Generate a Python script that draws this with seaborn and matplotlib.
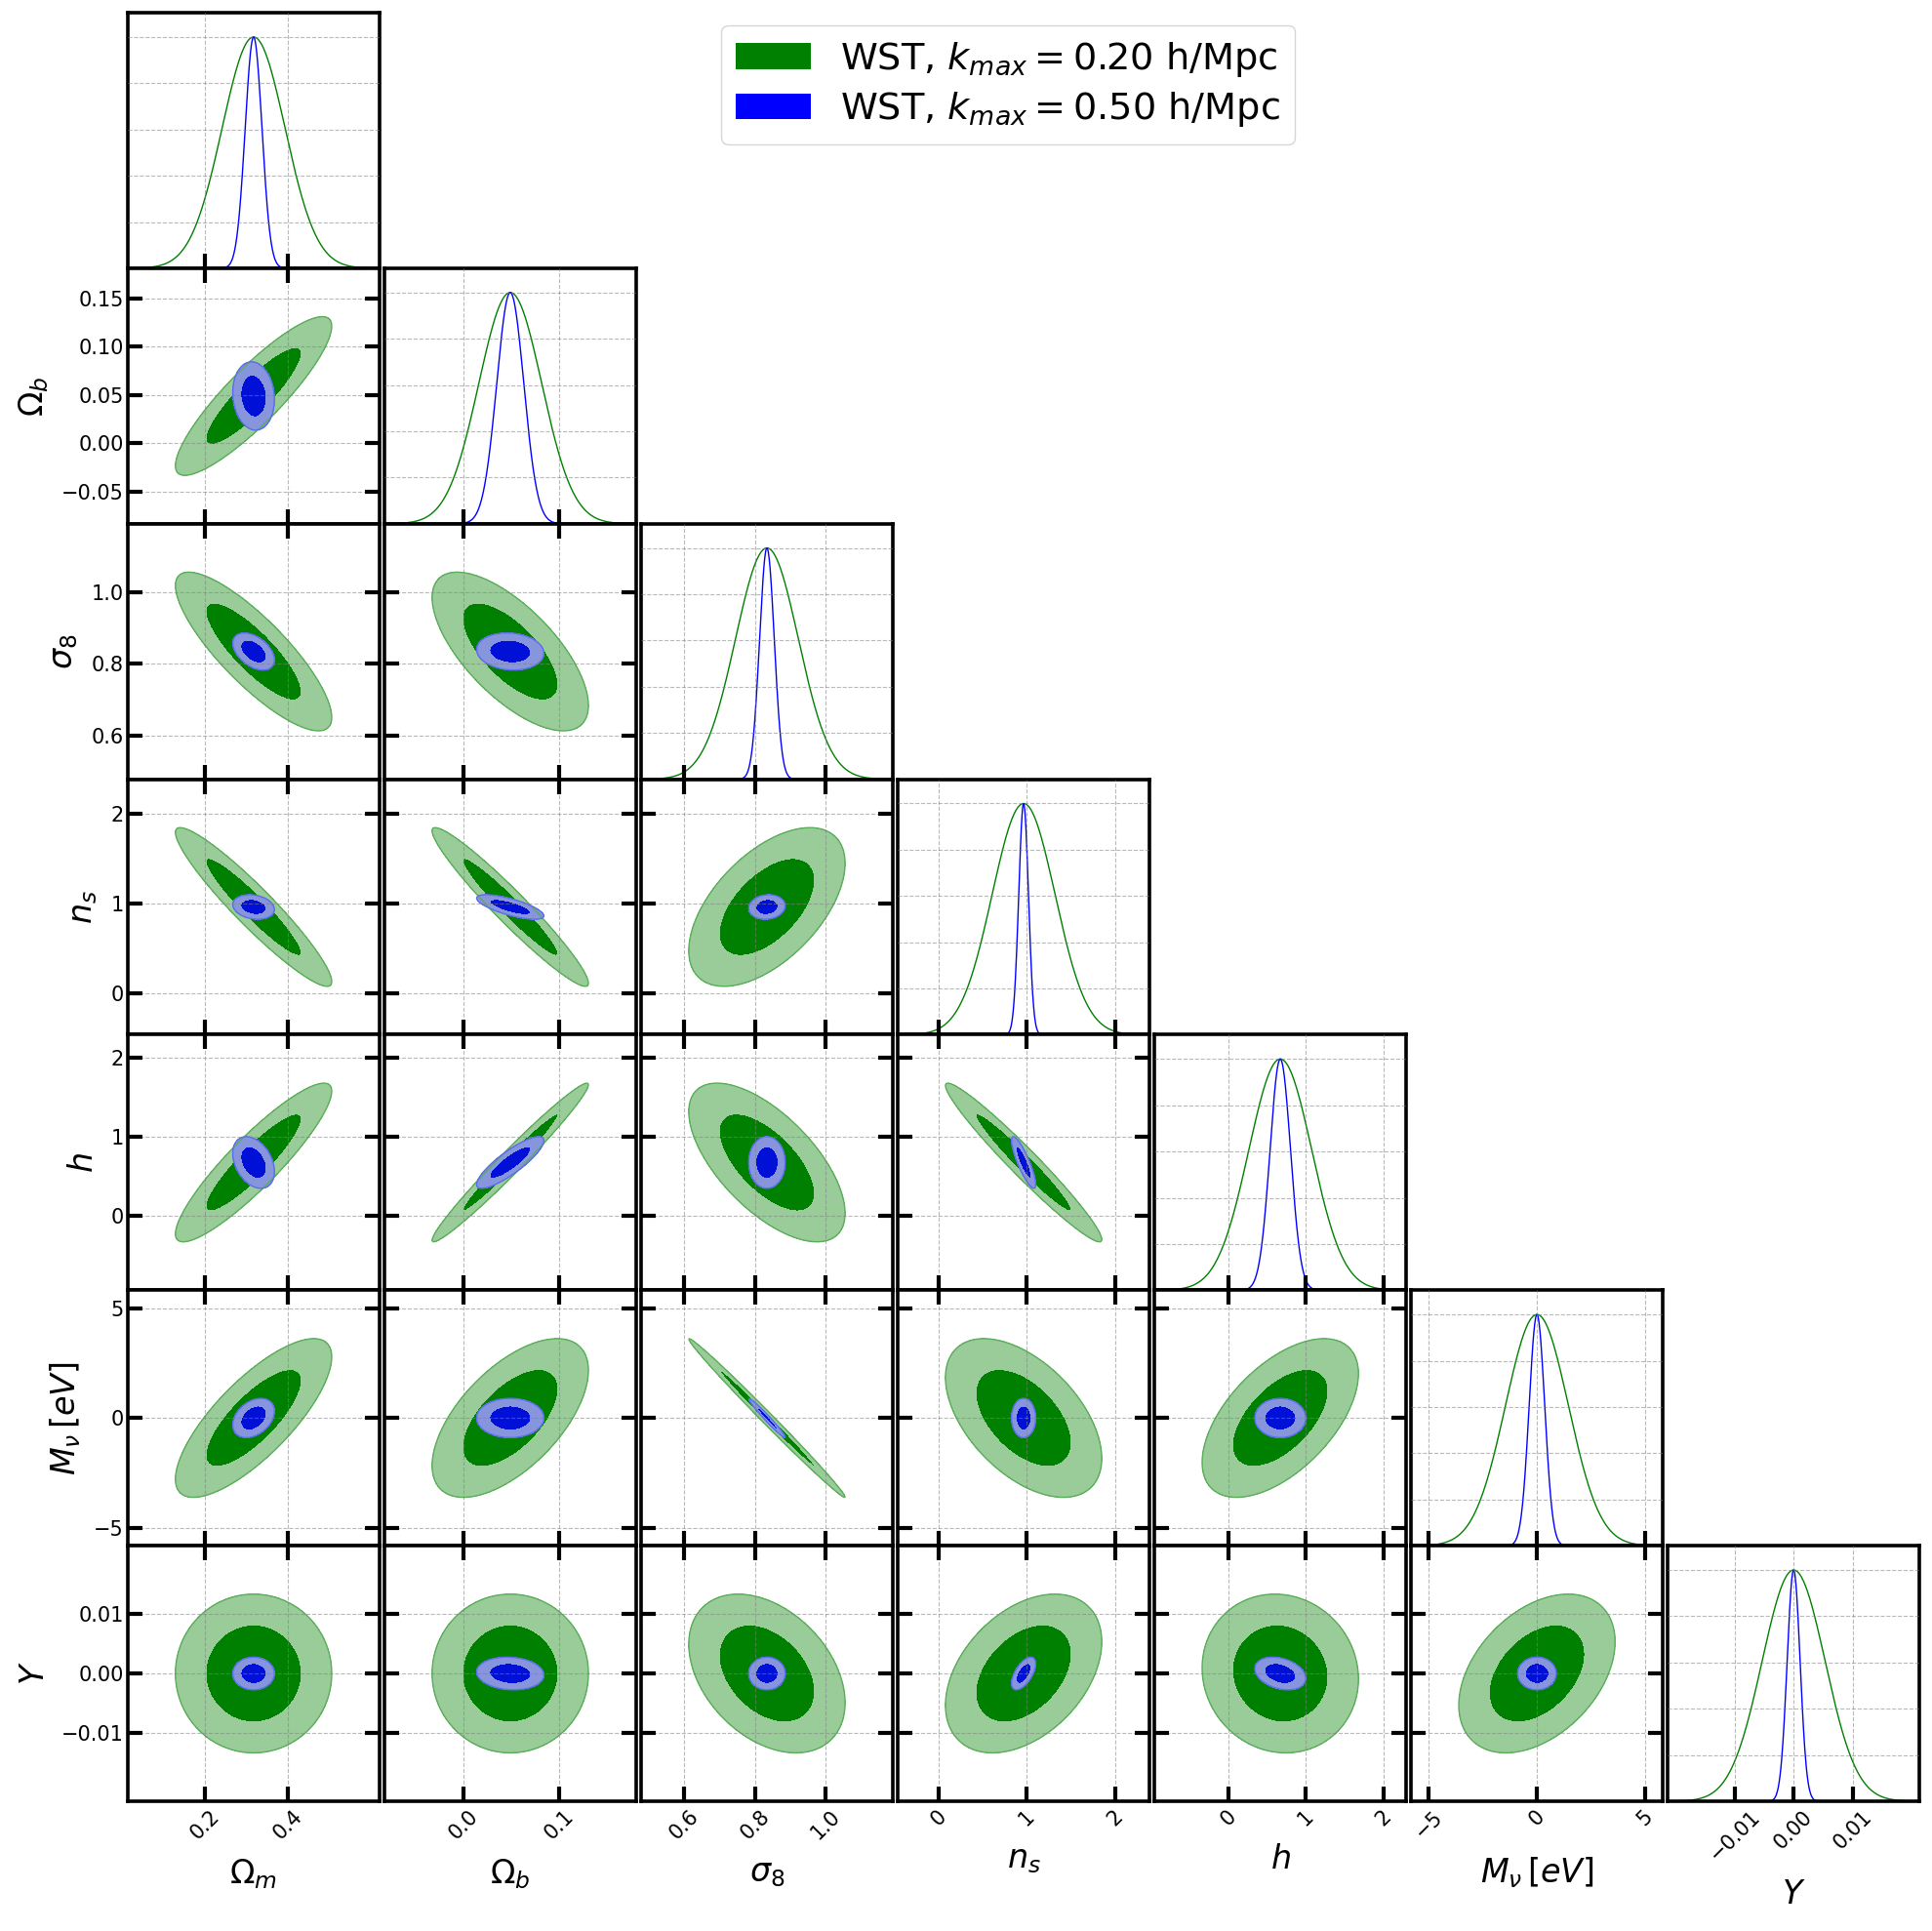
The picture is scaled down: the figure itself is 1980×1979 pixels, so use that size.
import numpy as np
import matplotlib
matplotlib.use("Agg")
import matplotlib.pyplot as plt
from matplotlib.patches import Patch
import seaborn as sns

# parameters of the Fisher forecast
labels = [r'$\Omega_m$', r'$\Omega_b$', r'$\sigma_8$', r'$n_s$', r'$h$', r'$M_\nu\,[eV]$', r'$Y$']
fiducial = [0.3175, 0.049, 0.834, 0.9624, 0.6711, 0.0, 0.0]
sigma_k020 = [0.0765, 0.033, 0.089, 0.355, 0.405, 1.456, 0.00534]
sigma_k050 = [0.0204, 0.0142, 0.0208, 0.055, 0.132, 0.36, 0.0011]

# lower triangle of the correlation matrices, row i holds rho(i, j) for j < i
corr_k020 = [
    [],
    [0.88],
    [-0.83, -0.68],
    [-0.94, -0.96, 0.55],
    [0.90, 0.98, -0.64, -0.97],
    [0.77, 0.60, -0.995, -0.51, 0.56],
    [0.0, 0.0, -0.37, 0.40, -0.07, 0.40],
]
corr_k050 = [
    [],
    [-0.1],
    [-0.45, -0.1],
    [-0.2, -0.72, 0.1],
    [-0.35, 0.85, 0.0, -0.85],
    [0.35, 0.0, -0.98, 0.0, 0.0],
    [0.0, -0.1, 0.0, 0.6, -0.3, 0.0],
]

xticks = [[0.2, 0.4], [0.0, 0.1], [0.6, 0.8, 1.0], [0, 1, 2], [0, 1, 2], [-5, 0, 5], [-0.01, 0.0, 0.01]]
yticks = [[], [-0.05, 0.0, 0.05, 0.10, 0.15], [0.6, 0.8, 1.0], [0, 1, 2], [0, 1, 2], [-5, 0, 5], [-0.01, 0.0, 0.01]]
legend_labels = [r'WST, $k_{max}=0.20$ h/Mpc', r'WST, $k_{max}=0.50$ h/Mpc']

sns.set_style("white")
plt.rcParams["mathtext.fontset"] = "dejavusans"
for key in ["text.color", "axes.labelcolor", "xtick.color", "ytick.color"]:
    plt.rcParams[key] = "black"

# 68% and 95% regions of a 2D gaussian
chi2_levels = [0.0, 2.30, 6.17]
green_fill = ['#008000', '#99cc99']
blue_fill = ['#0010d6', '#8795dd']


def limits(k):
    return fiducial[k] - 4 * sigma_k020[k], fiducial[k] + 4 * sigma_k020[k]


def draw_2d(ax, i, j, sig, corr, fill, edge):
    x0, x1 = limits(j)
    y0, y1 = limits(i)
    gx, gy = np.meshgrid(np.linspace(x0, x1, 300), np.linspace(y0, y1, 300))
    r = corr[i][j]
    dx = (gx - fiducial[j]) / sig[j]
    dy = (gy - fiducial[i]) / sig[i]
    chi2 = (dx ** 2 - 2 * r * dx * dy + dy ** 2) / (1 - r ** 2)
    ax.contourf(gx, gy, chi2, levels=chi2_levels, colors=fill)
    ax.contour(gx, gy, chi2, levels=[chi2_levels[2]], colors=[edge], linewidths=1.0)


n = len(labels)
fig = plt.figure(figsize=(19.81, 19.79), dpi=100)
gs = fig.add_gridspec(n, n, left=0.0661, right=0.993, top=0.9934, bottom=0.0672,
                      wspace=0.02, hspace=0.0)

for i in range(n):
    for j in range(i + 1):
        ax = fig.add_subplot(gs[i, j])
        x0, x1 = limits(j)
        if i == j:
            xs = np.linspace(x0, x1, 600)
            for sig, col in ((sigma_k020, 'green'), (sigma_k050, 'blue')):
                pdf = np.exp(-0.5 * ((xs - fiducial[i]) / sig[i]) ** 2)
                sns.lineplot(x=xs, y=pdf, ax=ax, color=col, linewidth=1.0)
            ax.set_ylim(0, 1.105)
            ax.set_yticks([0.2, 0.4, 0.6, 0.8, 1.0])
            ax.tick_params(axis='y', length=0, left=False, right=False, labelleft=False)
            ax.tick_params(axis='x', direction='in', length=11, width=3,
                           bottom=True, top=False)
        else:
            draw_2d(ax, i, j, sigma_k020, corr_k020, green_fill, '#5aad5a')
            draw_2d(ax, i, j, sigma_k050, corr_k050, blue_fill, '#5c6cf0')
            y0, y1 = limits(i)
            ax.set_ylim(y0, y1)
            ax.set_yticks(yticks[i])
            ax.tick_params(direction='in', length=11, width=3,
                           bottom=True, top=True, left=True, right=True)
        ax.set_xlim(x0, x1)
        ax.set_xticks(xticks[j])
        ax.grid(True, ls='--', lw=0.8, color='0.5', alpha=0.55)
        ax.set_axisbelow(False)
        for sp in ax.spines.values():
            sp.set_linewidth(2.6)
            sp.set_color('black')
        ax.set_xlabel('')
        ax.set_ylabel('')

        if i == n - 1:
            ax.tick_params(axis='x', labelsize=15, labelrotation=45, pad=4)
            ax.set_xlabel(labels[j], fontsize=24, labelpad=10)
        else:
            ax.tick_params(axis='x', labelbottom=False)
        if j == 0 and i > 0:
            ax.tick_params(axis='y', labelsize=15, pad=3)
            ax.set_ylabel(labels[i], fontsize=24, labelpad=8)
        else:
            ax.tick_params(axis='y', labelleft=False)

handles = [Patch(facecolor='green', edgecolor='none'), Patch(facecolor='blue', edgecolor='none')]
fig.legend(handles, legend_labels, loc='upper center', bbox_to_anchor=(0.5215, 0.987),
           borderaxespad=0.0, fontsize=27.5, labelspacing=0.3, frameon=True, edgecolor='0.8')

fig.savefig('out.png', dpi=100)
